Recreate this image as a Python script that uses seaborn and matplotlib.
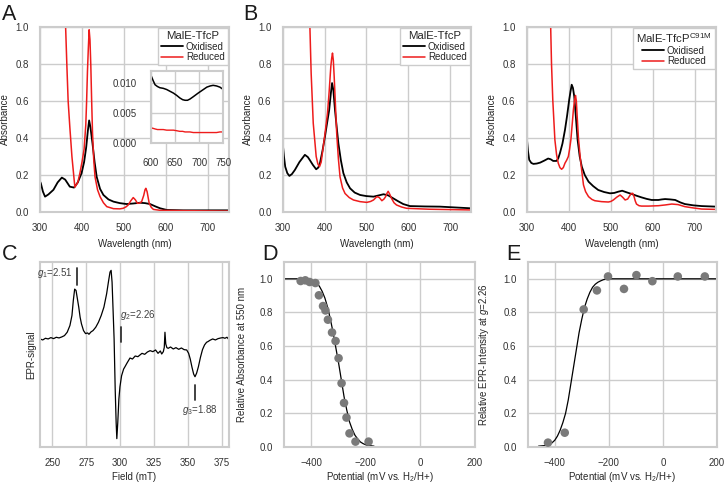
import matplotlib
matplotlib.use("Agg")
import matplotlib.pyplot as plt
import seaborn as sns
import numpy as np
import pandas as pd

# ---------------- data ----------------
# Panel A (MalE-TfcP, first preparation)
a_ox_wl = [300, 302, 307, 312, 320, 332, 342, 352, 360, 371, 381, 390, 399, 405, 410, 414, 417, 420, 425, 430, 435, 443, 451, 463, 475, 490, 506, 522, 538, 550, 562, 575, 586, 602, 641, 700, 750]
a_ox_ab = [0.165, 0.155, 0.11, 0.083, 0.095, 0.12, 0.16, 0.186, 0.175, 0.137, 0.132, 0.16, 0.21, 0.27, 0.35, 0.44, 0.495, 0.46, 0.37, 0.27, 0.19, 0.125, 0.092, 0.068, 0.056, 0.048, 0.043, 0.046, 0.05, 0.048, 0.043, 0.03, 0.02, 0.011, 0.009, 0.009, 0.009]
a_red_wl = [358, 361, 364, 367, 371, 376, 383, 390, 395, 400, 405, 409, 411, 413, 415, 417, 419, 421, 423, 425, 428, 431, 437, 443, 451, 459, 475, 490, 498, 505, 510, 516, 522, 527, 532, 537, 542, 547, 550, 552, 555, 560, 565, 570, 586, 650, 750]
a_red_ab = [1.3, 1.0, 0.79, 0.6, 0.46, 0.3, 0.134, 0.16, 0.21, 0.27, 0.34, 0.47, 0.6, 0.76, 0.88, 0.985, 0.93, 0.79, 0.6, 0.43, 0.28, 0.19, 0.12, 0.083, 0.05, 0.029, 0.018, 0.017, 0.02, 0.028, 0.038, 0.06, 0.078, 0.066, 0.047, 0.048, 0.056, 0.09, 0.12, 0.128, 0.11, 0.047, 0.025, 0.014, 0.009, 0.007, 0.005]
# Inset of panel A (600-750 nm)
ins_wl = [600, 605, 609, 614, 619, 626, 633, 640, 647, 654, 660, 666, 671, 676, 681, 688, 698, 707, 716, 723, 729, 736, 743, 750]
ins_ox = [0.0114, 0.0104, 0.0097, 0.0094, 0.0092, 0.0091, 0.0089, 0.0086, 0.0083, 0.0079, 0.0075, 0.0072, 0.0071, 0.0071, 0.0073, 0.0077, 0.0083, 0.0088, 0.0093, 0.0095, 0.0096, 0.0095, 0.0093, 0.0089]
ins_red = [0.0025, 0.0024, 0.0023, 0.0022, 0.0022, 0.0022, 0.0021, 0.0021, 0.0021, 0.002, 0.0019, 0.0019, 0.0018, 0.0018, 0.0018, 0.0017, 0.0017, 0.0017, 0.0017, 0.0017, 0.0017, 0.0017, 0.0018, 0.0018]

# Panel B (MalE-TfcP)
b_ox_wl = [300, 303, 306, 311, 316, 322, 329, 340, 353, 360, 365, 372, 380, 385, 389, 395, 401, 406, 411, 415, 418, 421, 425, 429, 433, 439, 445, 453, 461, 472, 485, 500, 517, 530, 541, 552, 564, 576, 588, 604, 640, 676, 750]
b_ox_ab = [0.372, 0.3, 0.245, 0.21, 0.195, 0.205, 0.227, 0.27, 0.309, 0.297, 0.28, 0.255, 0.231, 0.24, 0.264, 0.33, 0.408, 0.48, 0.55, 0.64, 0.697, 0.66, 0.55, 0.46, 0.372, 0.28, 0.21, 0.16, 0.128, 0.105, 0.092, 0.086, 0.083, 0.09, 0.096, 0.09, 0.074, 0.058, 0.043, 0.032, 0.03, 0.029, 0.02]
b_red_wl = [365, 368, 373, 380, 384, 388, 392, 397, 402, 407, 411, 415, 417, 419, 421, 423, 426, 429, 433, 437, 443, 449, 459, 469, 485, 501, 510, 517, 525, 531, 537, 542, 546, 549, 552, 556, 560, 566, 572, 584, 596, 650, 750]
b_red_ab = [1.0, 0.75, 0.48, 0.3, 0.26, 0.245, 0.27, 0.354, 0.44, 0.534, 0.65, 0.787, 0.83, 0.859, 0.82, 0.733, 0.58, 0.426, 0.29, 0.19, 0.13, 0.1, 0.078, 0.065, 0.056, 0.052, 0.057, 0.065, 0.083, 0.078, 0.061, 0.07, 0.083, 0.1, 0.112, 0.095, 0.074, 0.05, 0.038, 0.027, 0.02, 0.015, 0.011]

# Panel B right (MalE-TfcP C91M)
c_ox_wl = [300, 303, 306, 311, 316, 324, 332, 342, 351, 357, 363, 371, 375, 379, 385, 391, 396, 401, 404, 407, 410, 413, 417, 421, 426, 431, 438, 447, 458, 470, 484, 498, 508, 518, 527, 538, 550, 561, 573, 585, 597, 613, 621, 629, 641, 653, 665, 676, 696, 716, 750]
c_ox_ab = [0.408, 0.33, 0.282, 0.265, 0.26, 0.262, 0.267, 0.278, 0.289, 0.285, 0.276, 0.276, 0.29, 0.318, 0.37, 0.444, 0.52, 0.606, 0.65, 0.688, 0.67, 0.625, 0.51, 0.39, 0.3, 0.245, 0.2, 0.164, 0.14, 0.119, 0.108, 0.101, 0.103, 0.11, 0.115, 0.106, 0.097, 0.088, 0.079, 0.071, 0.065, 0.065, 0.068, 0.07, 0.068, 0.065, 0.052, 0.043, 0.036, 0.032, 0.029]
c_red_wl = [357, 359, 362, 367, 371, 375, 379, 383, 387, 391, 395, 399, 402, 405, 408, 411, 414, 416, 418, 420, 423, 427, 431, 435, 440, 447, 455, 462, 478, 494, 500, 506, 514, 522, 528, 534, 540, 546, 549, 552, 555, 558, 561, 567, 573, 590, 613, 629, 645, 660, 676, 696, 716, 750]
c_red_ab = [1.0, 0.8, 0.606, 0.39, 0.31, 0.264, 0.24, 0.231, 0.24, 0.264, 0.28, 0.3, 0.34, 0.39, 0.47, 0.552, 0.61, 0.63, 0.6, 0.516, 0.4, 0.3, 0.22, 0.146, 0.11, 0.083, 0.068, 0.061, 0.056, 0.054, 0.057, 0.065, 0.08, 0.092, 0.08, 0.065, 0.07, 0.092, 0.1, 0.101, 0.085, 0.06, 0.043, 0.034, 0.032, 0.032, 0.034, 0.038, 0.043, 0.04, 0.029, 0.022, 0.016, 0.014]

# Panel C (EPR spectrum)
epr_field = [241, 243, 245, 247, 249, 251, 253, 255, 257, 259, 261, 263, 264.5, 265.5, 266.5, 267.5, 268.5, 269.5, 270.5, 271.5, 273, 274.5, 276, 277, 278.5, 280, 282, 284, 286, 288, 290, 291.5, 292.5, 293.3, 294, 294.8, 295.5, 296.3, 297, 297.5, 298.2, 299, 299.8, 301, 302.5, 303.5, 305, 307.2, 309, 311, 313, 314.5, 316, 318, 320, 322, 324, 326, 327.8, 329.5, 330.5, 331.7, 332.4, 332.9, 333.5, 334.3, 335.3, 337, 339, 341, 343, 345, 347, 348.9, 350.3, 351.5, 352.8, 354, 355, 356.2, 357.5, 359, 360.5, 362, 363.5, 364.5, 366, 368, 370, 372, 374, 375.6, 377, 378.5, 380]
epr_signal = [0.0, -0.3, 0.2, 0.0, 0.4, 0.1, 0.5, 0.3, 0.6, 1.0, 2.0, 4.0, 7.0, 11.5, 14.9, 14.5, 12.0, 9.5, 6.5, 4.5, 2.5, 1.6, 1.8, 1.4, 2.1, 2.5, 3.5, 5.0, 7.0, 9.5, 13.5, 17.5, 20.0, 20.5, 17.0, 8.0, 0.0, -15.0, -25.0, -29.8, -25.0, -18.0, -14.3, -11.0, -9.0, -8.3, -7.2, -5.7, -6.0, -5.1, -5.3, -4.8, -4.3, -4.6, -3.9, -3.5, -3.8, -3.3, -4.3, -3.6, -4.5, -3.8, -2.5, 2.0, -1.5, -2.6, -2.8, -2.4, -3.0, -2.6, -3.1, -2.7, -3.2, -3.3, -4.3, -6.0, -8.5, -10.5, -11.3, -10.2, -8.3, -5.5, -3.2, -1.8, -1.0, -0.8, -0.4, 0.0, -0.3, 0.1, 0.3, 0.4, 0.2, 0.5, -0.2]
g_field = [268.0, 300.4, 355.0]
g_lo = [16.0, -0.8, -18.3]
g_hi = [21.2, 3.7, -13.8]
g_text = ["$g_1$=2.51", "$g_2$=2.26", "$g_3$=1.88"]
g_text_x = [264.8, 299.6, 345.7]
g_text_y = [19.7, 7.2, -21.3]

# Panel D (optical redox titration)
d_pot = [-439, -422, -406, -385, -372, -357, -348, -339, -324, -311, -300, -289, -280, -271, -260, -238, -190]
d_rel = [0.987, 0.991, 0.981, 0.975, 0.902, 0.838, 0.812, 0.757, 0.681, 0.63, 0.528, 0.379, 0.262, 0.175, 0.081, 0.032, 0.032]
d_fit_x = [-500, -440, -420, -400, -390, -380, -370, -360, -350, -340, -330, -320, -310, -300, -290, -280, -270, -260, -250, -240, -230, -220, -210, -200, -185, -170]
d_fit_y = [1.0, 1.0, 0.998, 0.993, 0.986, 0.975, 0.955, 0.925, 0.885, 0.83, 0.76, 0.68, 0.59, 0.5, 0.4, 0.3, 0.22, 0.15, 0.105, 0.07, 0.048, 0.03, 0.02, 0.013, 0.008, 0.005]

# Panel E (EPR redox titration)
e_pot = [-425, -363, -293, -244, -203, -144, -98, -39, 55, 155]
e_rel = [0.026, 0.085, 0.818, 0.931, 1.014, 0.94, 1.022, 0.986, 1.014, 1.014]
e_fit_x = [-460, -440, -420, -410, -400, -390, -380, -370, -360, -350, -340, -330, -320, -310, -300, -290, -280, -270, -260, -250, -240, -230, -220, -210, -200, -100, 0, 100, 200]
e_fit_y = [0.005, 0.008, 0.015, 0.025, 0.04, 0.065, 0.1, 0.145, 0.2, 0.28, 0.38, 0.48, 0.58, 0.68, 0.76, 0.83, 0.88, 0.92, 0.95, 0.968, 0.98, 0.988, 0.995, 0.998, 1.0, 1.0, 1.0, 1.0, 1.0]

# ---------------- style ----------------
sns.set_theme(style="whitegrid", context="notebook")
plt.rcParams["font.family"] = ["Liberation Sans", "DejaVu Sans"]
plt.rcParams["mathtext.fontset"] = "custom"
plt.rcParams["mathtext.rm"] = "Liberation Sans"
plt.rcParams["mathtext.it"] = "Liberation Sans:italic"
plt.rcParams["mathtext.bf"] = "Liberation Sans:bold"
plt.rcParams["axes.unicode_minus"] = True

FS = 7
BLACK = "#000000"
RED = "#ee1c1c"
W, H = 725, 483

fig = plt.figure(figsize=(W / 100, H / 100), dpi=100)


def add_ax(left, right, top, bottom):
    return fig.add_axes([left / W, (H - bottom) / H, (right - left) / W, (bottom - top) / H])


def style(ax, pad=2):
    ax.tick_params(labelsize=FS, pad=pad, colors="0.2")
    for s in ax.spines.values():
        s.set_color("0.8")
        s.set_linewidth(1.5)
    ax.grid(color="0.8", linewidth=1.0)


def spectrum(ax, ox_wl, ox_ab, red_wl, red_ab, title):
    sns.lineplot(x=ox_wl, y=ox_ab, ax=ax, color=BLACK, lw=1.3, estimator=None, sort=False, label="Oxidised")
    sns.lineplot(x=red_wl, y=red_ab, ax=ax, color=RED, lw=1.1, estimator=None, sort=False, label="Reduced")
    ax.set_xlim(300, 750)
    ax.set_ylim(0, 1.0)
    ax.set_xticks([300, 400, 500, 600, 700])
    ax.set_yticks([0.0, 0.2, 0.4, 0.6, 0.8, 1.0])
    ax.set_yticklabels(["0.0", "0.2", "0.4", "0.6", "0.8", "1.0"])
    ax.set_xlabel("Wavelength (nm)", fontsize=FS, labelpad=4)
    ax.set_ylabel("Absorbance", fontsize=FS, labelpad=4)
    style(ax)
    leg = ax.legend(title=title, loc="upper right", fontsize=FS, title_fontsize=8.2,
                    frameon=True, fancybox=False, edgecolor="0.8", framealpha=1,
                    borderaxespad=0.15, handlelength=2.3, labelspacing=0.05,
                    borderpad=0.3, handletextpad=0.3)
    leg.get_frame().set_linewidth(1.0)
    leg.set_zorder(10)
    return leg


# Panel A
axA = add_ax(40, 229, 27, 212)
spectrum(axA, a_ox_wl, a_ox_ab, a_red_wl, a_red_ab, "MalE-TfcP")

axIn = add_ax(150.7, 223.3, 71, 142.7)
sns.lineplot(x=ins_wl, y=ins_ox, ax=axIn, color=BLACK, lw=1.1, estimator=None, sort=False)
sns.lineplot(x=ins_wl, y=ins_red, ax=axIn, color=RED, lw=1.0, estimator=None, sort=False)
axIn.set_xlim(600, 750)
axIn.set_ylim(0, 0.012)
axIn.set_xticks([600, 650, 700, 750])
axIn.set_yticks([0.0, 0.005, 0.010])
axIn.set_yticklabels(["0.000", "0.005", "0.010"])
axIn.set_xlabel("")
axIn.set_ylabel("")
style(axIn)
axIn.tick_params(axis="y", pad=4)
axIn.tick_params(axis="x", pad=5)

# Panel B
axB = add_ax(282.7, 471, 27, 212)
spectrum(axB, b_ox_wl, b_ox_ab, b_red_wl, b_red_ab, "MalE-TfcP")

# Panel B right
axB2 = add_ax(526.7, 716, 27, 212)
spectrum(axB2, c_ox_wl, c_ox_ab, c_red_wl, c_red_ab, "MalE-TfcP$^{\\mathrm{C91M}}$")

# Panel C (EPR)
axC = add_ax(40, 229, 262, 447)
sns.lineplot(x=epr_field, y=epr_signal, ax=axC, color=BLACK, lw=0.9, estimator=None, sort=False)
axC.set_xlim(241, 380)
axC.set_ylim(-32.3, 23.0)
axC.set_xticks([250, 275, 300, 325, 350, 375])
axC.set_yticks([])
axC.set_xlabel("Field (mT)", fontsize=FS, labelpad=3)
axC.set_ylabel("EPR-signal", fontsize=FS, labelpad=3)
style(axC)
axC.yaxis.grid(False)
for gx, lo, hi in zip(g_field, g_lo, g_hi):
    axC.plot([gx, gx], [lo, hi], color="0.2", lw=1.3)
axC.text(g_text_x[0], g_text_y[0], g_text[0], fontsize=FS, ha="right", va="center", color="0.25")
axC.text(g_text_x[1], g_text_y[1], g_text[1], fontsize=FS, ha="left", va="center", color="0.25")
axC.text(g_text_x[2], g_text_y[2], g_text[2], fontsize=FS, ha="left", va="center", color="0.25")

# Panel D
axD = add_ax(284, 475, 262, 447)
sns.lineplot(x=d_fit_x, y=d_fit_y, ax=axD, color=BLACK, lw=0.9, estimator=None, sort=False)
sns.scatterplot(x=d_pot, y=d_rel, ax=axD, color="#7a7a7a", s=38, edgecolor="none", zorder=3)
axD.set_xlim(-500, 200)
axD.set_ylim(0, 1.1)
axD.set_xticks([-400, -200, 0, 200])
axD.set_yticks([0.0, 0.2, 0.4, 0.6, 0.8, 1.0])
axD.set_yticklabels(["0.0", "0.2", "0.4", "0.6", "0.8", "1.0"])
axD.set_xlabel("Potential (mV vs. H$_2$/H+)", fontsize=FS, labelpad=1)
axD.set_ylabel("Relative Absorbance at 550 nm", fontsize=FS, labelpad=9)
style(axD)

# Panel E
axE = add_ax(527.7, 717, 262, 447)
sns.lineplot(x=e_fit_x, y=e_fit_y, ax=axE, color=BLACK, lw=0.9, estimator=None, sort=False)
sns.scatterplot(x=e_pot, y=e_rel, ax=axE, color="#7a7a7a", s=38, edgecolor="none", zorder=3)
axE.set_xlim(-500, 200)
axE.set_ylim(0, 1.1)
axE.set_xticks([-400, -200, 0, 200])
axE.set_yticks([0.0, 0.2, 0.4, 0.6, 0.8, 1.0])
axE.set_yticklabels(["0.0", "0.2", "0.4", "0.6", "0.8", "1.0"])
axE.set_xlabel("Potential (mV vs. H$_2$/H+)", fontsize=FS, labelpad=1)
axE.set_ylabel("Relative EPR-Intensity at $g$=2.26", fontsize=FS, labelpad=9)
style(axE)

# Panel letters
for letter, px, py in [("A", 2, 4), ("B", 243, 4), ("C", 2, 244), ("D", 262, 244), ("E", 506, 244)]:
    fig.text(px / W, 1 - py / H, letter, fontsize=15.5, ha="left", va="top", color="0.1")

fig.savefig("out.png", dpi=100)
